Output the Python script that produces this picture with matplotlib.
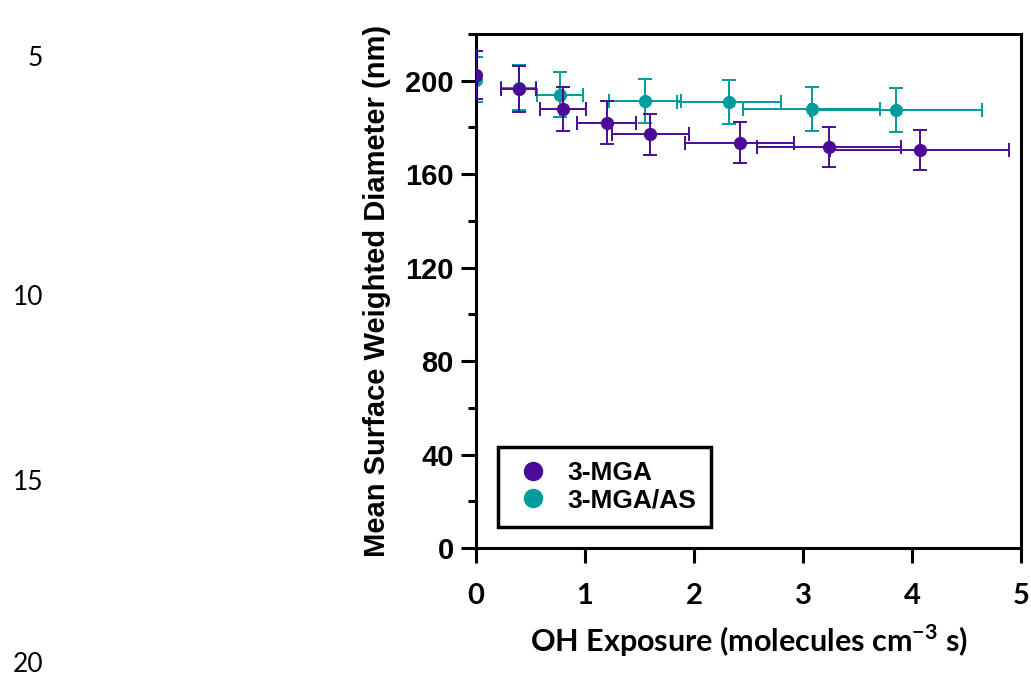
import matplotlib.pyplot as plt
from matplotlib.lines import Line2D
from matplotlib.ticker import MultipleLocator

plt.rcParams['mathtext.fontset'] = 'custom'
plt.rcParams['mathtext.rm'] = 'Lato'
plt.rcParams['mathtext.bf'] = 'Lato:bold'

# 3-MGA
mga_x = [0.0, 0.39, 0.80, 1.20, 1.60, 2.42, 3.24, 4.07]
mga_xerr = [0.0, 0.16, 0.21, 0.27, 0.35, 0.50, 0.66, 0.82]
mga_y = [202.5, 196.5, 188.0, 182.0, 177.0, 173.5, 171.5, 170.5]
mga_yerr = [10.4, 9.9, 9.4, 9.2, 8.8, 8.7, 8.5, 8.5]

# 3-MGA/AS
as_x = [0.0, 0.39, 0.77, 1.55, 2.32, 3.08, 3.85]
as_xerr = [0.0, 0.16, 0.21, 0.33, 0.48, 0.63, 0.79]
as_y = [200.5, 197.0, 194.0, 191.5, 190.8, 188.0, 187.3]
as_yerr = [9.5, 9.6, 9.6, 9.4, 9.4, 9.4, 9.4]

purple = "#4b0a98"
teal = "#009b9b"
arial = "Liberation Sans"
calibri = "Lato"

fig = plt.figure(figsize=(10.31, 6.76), dpi=100)
ax = fig.add_axes([0.4617, 0.1893, 0.5286, 0.7604])

ax.errorbar(as_x, as_y, xerr=as_xerr, yerr=as_yerr, fmt="o", color=teal,
            ms=8.5, elinewidth=1.4, capsize=5, capthick=1.4, zorder=2)
ax.errorbar(mga_x, mga_y, xerr=mga_xerr, yerr=mga_yerr, fmt="o", color=purple,
            ms=8.5, elinewidth=1.4, capsize=5, capthick=1.4, zorder=3)

ax.set_xlim(0, 5)
ax.set_ylim(0, 220)
ax.set_yticks([0, 40, 80, 120, 160, 200])
ax.yaxis.set_minor_locator(MultipleLocator(20))
ax.set_xticks([0, 1, 2, 3, 4, 5])

for s in ax.spines.values():
    s.set_linewidth(2.2)
ax.tick_params(axis="both", which="major", length=11, width=2.2, direction="out")
ax.tick_params(axis="y", which="minor", length=6, width=2.2, direction="out")
ax.tick_params(axis="x", pad=14)
ax.tick_params(axis="y", pad=5)
for lab in ax.get_yticklabels():
    lab.set_fontfamily(arial)
    lab.set_fontweight("bold")
    lab.set_fontsize(21)
for lab in ax.get_xticklabels():
    lab.set_fontfamily(calibri)
    lab.set_fontweight("bold")
    lab.set_fontsize(21)

ax.set_ylabel("Mean Surface Weighted Diameter (nm)", fontfamily=arial,
              fontweight="bold", fontsize=21, labelpad=10)
ax.set_xlabel(r"OH Exposure (molecules cm$^{\mathbf{-3}}$ s)", fontfamily=calibri,
              fontweight="bold", fontsize=22, labelpad=10)

handles = [Line2D([], [], marker="o", ls="", color=purple, ms=13),
           Line2D([], [], marker="o", ls="", color=teal, ms=13)]
leg = ax.legend(handles, ["3-MGA", "3-MGA/AS"], loc="lower left",
                bbox_to_anchor=(0.04, 0.041), borderaxespad=0, fancybox=False,
                edgecolor="black", framealpha=1, handletextpad=0.5,
                borderpad=0.55, labelspacing=0.12, handlelength=1.6,
                prop={"family": arial, "weight": "bold", "size": 19})
leg.get_frame().set_linewidth(2.5)

# line numbers on the page margin
for txt, yy in [("5", 59), ("10", 298), ("15", 483), ("20", 664)]:
    fig.text(43 / 1031, 1 - yy / 676, txt, ha="right", va="center",
             fontfamily=calibri, fontsize=19)

fig.savefig("out.png", dpi=100)
